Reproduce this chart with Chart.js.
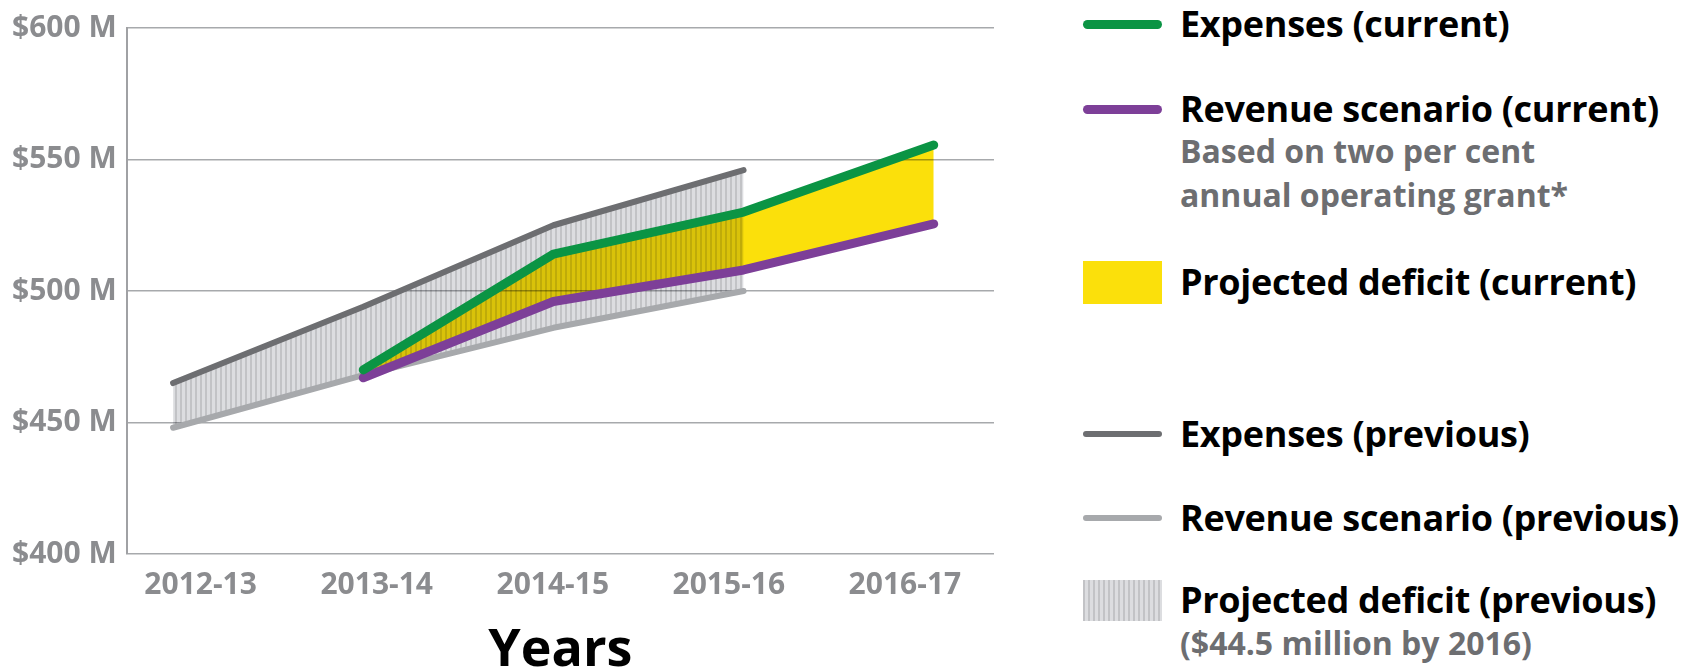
<!DOCTYPE html>
<html>
<head>
<meta charset="utf-8">
<script src="https://cdn.jsdelivr.net/npm/chart.js@4.4.1/dist/chart.umd.min.js"></script>
<style>
  html, body { margin: 0; padding: 0; background: #fff; }
  body { width: 1701px; height: 671px; position: relative; overflow: hidden; font-family: "Open Sans", sans-serif; }
  #chartBox { position: absolute; left: 0; top: 0; width: 1010px; height: 671px; }
  .sw { position: absolute; left: 1083px; width: 79px; }
  .lbl { position: absolute; left: 1180px; font-weight: 700; font-size: 36px; letter-spacing: -0.3px; line-height: 44px; height: 44px; color: #000; white-space: nowrap; }
  .note { position: absolute; left: 1180px; font-weight: 700; font-size: 32px; line-height: 40px; height: 40px; color: #6d6e71; white-space: nowrap; }
</style>
</head>
<body>
<div id="chartBox"><canvas id="grafico"></canvas></div>
<div id="leyenda"></div>
<script>
// values in millions of dollars
const years = ["2012-13", "2013-14", "2014-15", "2015-16", "2016-17"];
const expensesCurrent  = [null, 470, 514, 530, 555.5];
const revenueCurrent   = [null, 467, 496, 508, 525.5];
const expensesPrevious = [465, 494, 525, 546, null];
const revenuePrevious  = [448, 468, 486, 500, null];
const yTicks = [400, 450, 500, 550, 600];

const seriesNames = [
  "Expenses (current)",
  "Revenue scenario (current)",
  "Projected deficit (current)",
  "Expenses (previous)",
  "Revenue scenario (previous)",
  "Projected deficit (previous)"
];
const legendNotes = {
  "Revenue scenario (current)": ["Based on two per cent", "annual operating grant*"],
  "Projected deficit (previous)": ["($44.5 million by 2016)"]
};

const GREEN = "#0b9444", PURPLE = "#7d3f98", DARK = "#6d6e71", LIGHT = "#a7a9ac", YELLOW = "#fbe00b";
const FONT = "'Open Sans', sans-serif";

function puntos(arr) {
  return arr.map((v, i) => (v === null ? null : { x: i, y: v })).filter(p => p);
}

const canvas = document.getElementById("grafico");
const ctx = canvas.getContext("2d");

// vertical hatch for the previous deficit
const tile = document.createElement("canvas");
tile.width = 5; tile.height = 5;
const t = tile.getContext("2d");
t.fillStyle = "#dcdde0"; t.fillRect(0, 0, 5, 5);
t.fillStyle = "#c2c3c6"; t.fillRect(0, 0, 2, 5);
const rayas = ctx.createPattern(tile, "repeat");

// fills are multiplied so the hatch darkens the yellow underneath
const multiplyFills = {
  id: "multiplyFills",
  beforeDraw(chart) { chart.ctx.globalCompositeOperation = "multiply"; },
  beforeDatasetDraw(chart) { chart.ctx.globalCompositeOperation = "source-over"; },
  afterDraw(chart) { chart.ctx.globalCompositeOperation = "source-over"; }
};

const lineBase = { xAxisID: "xd", yAxisID: "y", pointRadius: 0, tension: 0, borderCapStyle: "round", borderJoinStyle: "round", fill: false };

const chart = new Chart(ctx, {
  type: "line",
  data: {
    datasets: [
      { ...lineBase, label: seriesNames[0], data: puntos(expensesCurrent), borderColor: GREEN, borderWidth: 9, order: 0 },
      { ...lineBase, label: seriesNames[1], data: puntos(revenueCurrent), borderColor: PURPLE, borderWidth: 9, order: 1 },
      { ...lineBase, label: seriesNames[2], data: puntos(expensesCurrent), borderWidth: 0, backgroundColor: YELLOW, fill: { target: 1 }, order: 5 },
      { ...lineBase, label: seriesNames[3], data: puntos(expensesPrevious), borderColor: DARK, borderWidth: 6, order: 2 },
      { ...lineBase, label: seriesNames[4], data: puntos(revenuePrevious), borderColor: LIGHT, borderWidth: 6, order: 3 },
      { ...lineBase, label: seriesNames[5], data: puntos(expensesPrevious), borderWidth: 0, backgroundColor: rayas, fill: { target: 4 }, order: 4 }
    ]
  },
  options: {
    responsive: true,
    maintainAspectRatio: false,
    animation: false,
    layout: { padding: { left: 2, top: 26, right: 16, bottom: -6 } },
    plugins: {
      legend: { display: false },
      tooltip: { enabled: false },
      filler: { drawTime: "beforeDatasetsDraw" }
    },
    scales: {
      xd: { type: "linear", display: false, min: -0.244, max: 4.317 },
      x: {
        type: "linear",
        position: "bottom",
        min: -0.42,
        max: 4.506,
        afterBuildTicks(axis) { axis.ticks = years.map((_, i) => ({ value: i })); },
        grid: { display: false },
        border: { display: false },
        ticks: {
          autoSkip: false, maxRotation: 0, padding: 5,
          color: "#8b8c8f",
          font: { family: FONT, size: 30, weight: "bold" },
          callback: v => years[v]
        },
        title: {
          display: true, text: "Years", color: "#000",
          font: { family: FONT, size: 52, weight: "bold", lineHeight: 1 },
          padding: { top: 17, bottom: 0 }
        }
      },
      y: {
        min: yTicks[0],
        max: yTicks[yTicks.length - 1],
        afterBuildTicks(axis) { axis.ticks = yTicks.map(v => ({ value: v })); },
        grid: { color: "#a7a9ac", lineWidth: 1.5, drawTicks: false },
        border: { display: true, color: "#a0a1a4", width: 2 },
        ticks: {
          padding: 10,
          color: "#8b8c8f",
          font: { family: FONT, size: 30, weight: "bold" },
          callback: v => "$" + v + " M"
        }
      }
    }
  },
  plugins: [multiplyFills]
});

// legend on the right, built from the datasets
const legendLayout = [
  { y: 24, kind: "line" },
  { y: 109, kind: "line", notesY: [151, 195] },
  { y: 282, kind: "box", h: 43 },
  { y: 434, kind: "line" },
  { y: 518, kind: "line" },
  { y: 600, kind: "box", h: 41, notesY: [643] }
];
const leyenda = document.getElementById("leyenda");
chart.data.datasets.forEach((ds, i) => {
  const lay = legendLayout[i];
  const sw = document.createElement("div");
  sw.className = "sw";
  if (lay.kind === "line") {
    const h = ds.borderWidth;
    sw.style.top = (lay.y - h / 2) + "px";
    sw.style.height = h + "px";
    sw.style.borderRadius = h / 2 + "px";
    sw.style.background = ds.borderColor;
  } else {
    sw.style.top = (lay.y - lay.h / 2) + "px";
    sw.style.height = lay.h + "px";
    sw.style.background = ds.backgroundColor === rayas
      ? "repeating-linear-gradient(90deg, #c2c3c6 0 2px, #dcdde0 2px 5px)"
      : ds.backgroundColor;
  }
  leyenda.appendChild(sw);

  const lbl = document.createElement("div");
  lbl.className = "lbl";
  lbl.style.top = (lay.y - 22) + "px";
  lbl.textContent = ds.label;
  leyenda.appendChild(lbl);

  (legendNotes[ds.label] || []).forEach((txt, k) => {
    const n = document.createElement("div");
    n.className = "note";
    n.style.top = (lay.notesY[k] - 20) + "px";
    n.textContent = txt;
    leyenda.appendChild(n);
  });
});
</script>
</body>
</html>
